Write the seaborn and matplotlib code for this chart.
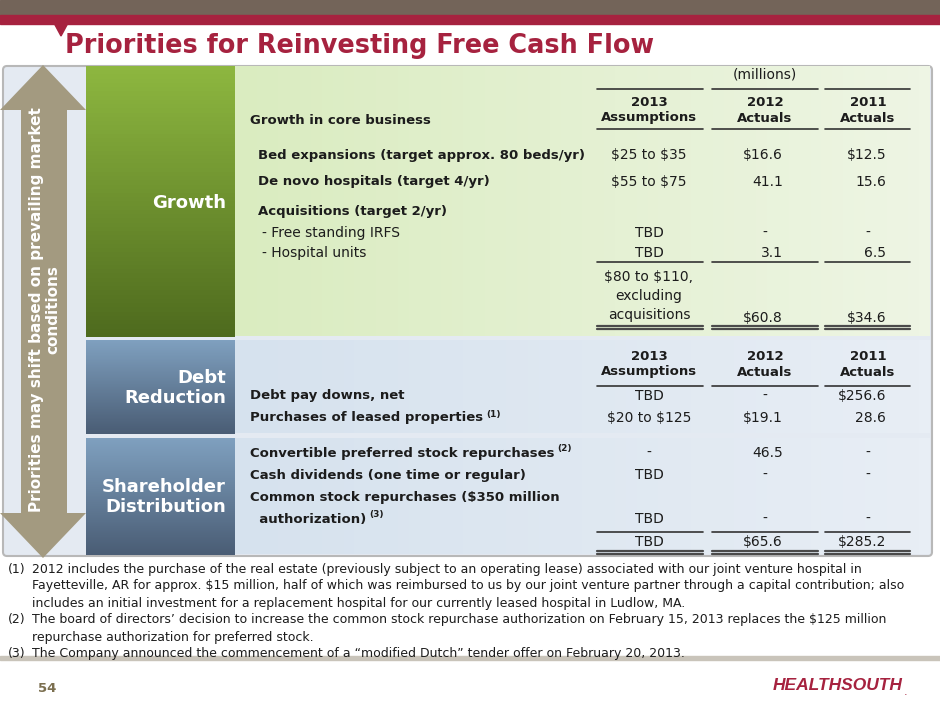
import numpy as np
import seaborn as sns
import matplotlib.pyplot as plt
from matplotlib.patches import Polygon, Rectangle, FancyBboxPatch

sns.set_theme(style="white")
plt.rcParams['font.family'] = ['DejaVu Sans']

# table data (millions)
col_heads = ["2013\nAssumptions", "2012\nActuals", "2011\nActuals"]

growth_rows = ["Bed expansions (target approx. 80 beds/yr)", "De novo hospitals (target 4/yr)",
               "Acquisitions (target 2/yr)", "- Free standing IRFS", "- Hospital units"]
growth_2013 = ["$25 to $35", "$55 to $75", "", "TBD", "TBD"]
growth_2012 = ["$16.6", "41.1", "", "-", "3.1"]
growth_2011 = ["$12.5", "15.6", "", "-", "6.5"]
growth_total = ["$80 to $110,\nexcluding\nacquisitions", "$60.8", "$34.6"]

debt_rows = ["Debt pay downs, net", "Purchases of leased properties"]
debt_2013 = ["TBD", "$20 to $125"]
debt_2012 = ["-", "$19.1"]
debt_2011 = ["$256.6", "28.6"]

share_rows = ["Convertible preferred stock repurchases", "Cash dividends (one time or regular)",
              "Common stock repurchases ($350 million", "  authorization)"]
share_2013 = ["-", "TBD", "", "TBD"]
share_2012 = ["46.5", "-", "", "-"]
share_2011 = ["-", "-", "", "-"]
share_total = ["TBD", "$65.6", "$285.2"]

footnotes = [
    ("(1)", "2012 includes the purchase of the real estate (previously subject to an operating lease) associated with our joint venture hospital in"),
    ("", "Fayetteville, AR for approx. $15 million, half of which was reimbursed to us by our joint venture partner through a capital contribution; also"),
    ("", "includes an initial investment for a replacement hospital for our currently leased hospital in Ludlow, MA."),
    ("(2)", "The board of directors\u2019 decision to increase the common stock repurchase authorization on February 15, 2013 replaces the $125 million"),
    ("", "repurchase authorization for preferred stock."),
    ("(3)", "The Company announced the commencement of a \u201cmodified Dutch\u201d tender offer on February 20, 2013."),
]

crimson = "#A6223F"
dark = "#1C1C1C"
fs = 10      # regular table text
fsb = 9.5    # bold table text

fig = plt.figure(figsize=(9.4, 7.05), dpi=100)
ax = fig.add_axes([0, 0, 1, 1])
ax.set_xlim(0, 940)
ax.set_ylim(705, 0)
ax.axis('off')
renderer = fig.canvas.get_renderer()


def gradient(x0, x1, y0, y1, c0, c1, horizontal=False):
    cols = np.array(sns.blend_palette([c0, c1], 64))
    img = cols[None, :, :] if horizontal else cols[:, None, :]
    ax.imshow(img, extent=(x0, x1, y1, y0), origin='upper', aspect='auto', zorder=1)


# header bars
ax.add_patch(Rectangle((0, 0), 940, 15, color="#736459", zorder=2))
ax.add_patch(Rectangle((0, 15), 940, 9, color=crimson, zorder=2))
ax.add_patch(Polygon([(54, 23), (68, 23), (61, 36)], color=crimson, zorder=2))
ax.text(65, 46, "Priorities for Reinvesting Free Cash Flow", color=crimson, fontsize=18.4,
        fontweight='bold', va='center', ha='left')

# panel
ax.add_patch(FancyBboxPatch((3, 66), 929, 490, boxstyle="round,pad=0,rounding_size=4",
                            fc="#E4EAF2", ec="#B8B8B8", lw=1.5, zorder=0.5))
gradient(235, 930, 66, 336, "#DAECC0", "#EEF5E4", horizontal=True)
gradient(235, 930, 340, 433, "#D6E2EE", "#E8EEF5", horizontal=True)
gradient(235, 930, 438, 554, "#D6E2EE", "#E8EEF5", horizontal=True)

# category boxes
gradient(86, 235, 66, 337, "#8EB740", "#4E6B1E")
gradient(86, 235, 340, 434, "#7FA0BF", "#4A5D75")
gradient(86, 235, 438, 555, "#7FA0BF", "#4A5D75")
cat_font = dict(color="white", fontsize=13, fontweight='bold', ha='right', va='center',
                linespacing=1.15, zorder=5)
ax.text(226, 203, "Growth", **cat_font)
ax.text(226, 388, "Debt\nReduction", **cat_font)
ax.text(226, 497, "Shareholder\nDistribution", **cat_font)

# double arrow
arrow = [(43, 65), (86, 110), (67, 110), (67, 513), (86, 513), (43, 558),
         (0, 513), (21, 513), (21, 110), (0, 110)]
ax.add_patch(Polygon(arrow, closed=True, fc="#A39A80", ec="none", zorder=3))
ax.text(45, 310, "Priorities may shift based on prevailing market\nconditions", rotation=90,
        color="white", fontsize=11, fontweight='bold', ha='center', va='center',
        linespacing=1.1, zorder=5)

# table
col_c = [649, 765, 868]
col_r = [None, 783, 886]
col_span = [(597, 703), (712, 818), (825, 910)]


def hline(y, double=False):
    for a, b in col_span:
        if double:
            ax.plot([a, b], [y - 1.5, y - 1.5], color="#4A4A4A", lw=1.6, zorder=4)
            ax.plot([a, b], [y + 1.5, y + 1.5], color="#4A4A4A", lw=1.6, zorder=4)
        else:
            ax.plot([a, b], [y, y], color="#333333", lw=1.2, zorder=4)


def cell(j, y, s):
    if s == "":
        return
    if j == 0 or s == "-" or col_r[j] is None:
        ax.text(col_c[j], y, s, ha='center', va='center', fontsize=fs, color=dark,
                parse_math=False, zorder=5, linespacing=1.45)
    else:
        ax.text(col_r[j], y, s, ha='right', va='center', fontsize=fs, color=dark,
                parse_math=False, zorder=5)


def label(x, y, s, bold=True, sup=None):
    t = ax.text(x, y, s, ha='left', va='center', fontsize=fsb if bold else fs, color=dark,
                fontweight='bold' if bold else 'normal', parse_math=False, zorder=5)
    if sup:
        bb = t.get_window_extent(renderer=renderer)
        xd = ax.transData.inverted().transform((bb.x1, bb.y1))[0]
        ax.text(xd + 3, y - 4, sup, ha='left', va='center', fontsize=6.5, color=dark,
                fontweight='bold', zorder=5)


def heads(y_top, y_bot):
    for j, h in enumerate(col_heads):
        ax.text(col_c[j], (y_top + y_bot) / 2, h, ha='center', va='center', fontsize=fsb,
                fontweight='bold', color=dark, linespacing=1.3, zorder=5)


# growth section
ax.text(765, 74, "(millions)", ha='center', va='center', fontsize=fs, color=dark, zorder=5)
hline(89)
heads(100, 120)
hline(129)
ax.text(250, 120, "Growth in core business", ha='left', va='center', fontsize=fsb,
        fontweight='bold', color=dark, zorder=5)
g_y = [155, 182, 212, 233, 253]
for i, name in enumerate(growth_rows):
    sub = name.startswith("-")
    label(262 if sub else 258, g_y[i], name, bold=not sub)
    for j, vals in enumerate([growth_2013, growth_2012, growth_2011]):
        cell(j, g_y[i], vals[i])
hline(262)
cell(0, 296, growth_total[0])
cell(1, 318, growth_total[1])
cell(2, 318, growth_total[2])
hline(327, double=True)

# debt section
heads(355, 373)
hline(386)
d_y = [396, 418]
sups = [None, "(1)"]
for i, name in enumerate(debt_rows):
    label(250, d_y[i], name, sup=sups[i])
    for j, vals in enumerate([debt_2013, debt_2012, debt_2011]):
        cell(j, d_y[i], vals[i])

# shareholder section
s_y = [453, 475, 497, 519]
sups = ["(2)", None, None, "(3)"]
for i, name in enumerate(share_rows):
    label(250, s_y[i], name, sup=sups[i])
    for j, vals in enumerate([share_2013, share_2012, share_2011]):
        cell(j, s_y[i], vals[i])
hline(532)
for j in range(3):
    cell(j, 542, share_total[j])
hline(552, double=True)

# footnotes
f_y = [569, 586, 603, 620, 637, 653]
for (num, txt), y in zip(footnotes, f_y):
    if num:
        ax.text(8, y, num, ha='left', va='center', fontsize=9, color=dark, zorder=5)
    ax.text(32, y, txt, ha='left', va='center', fontsize=9, color=dark,
            parse_math=False, zorder=5)
ax.add_patch(Rectangle((0, 656), 940, 4, color="#C9C4BA", zorder=2))

# footer
ax.text(38, 688, "54", ha='left', va='center', fontsize=9.5, fontweight='bold', color="#7B6F4F")
ax.text(773, 686, "HEALTHSOUTH", ha='left', va='center', fontsize=12.5, fontweight='bold',
        style='italic', color=crimson, family='Liberation Sans')
ax.text(904, 692, ".", ha='left', va='center', fontsize=8, color=crimson)

fig.savefig("out.png", dpi=100)
